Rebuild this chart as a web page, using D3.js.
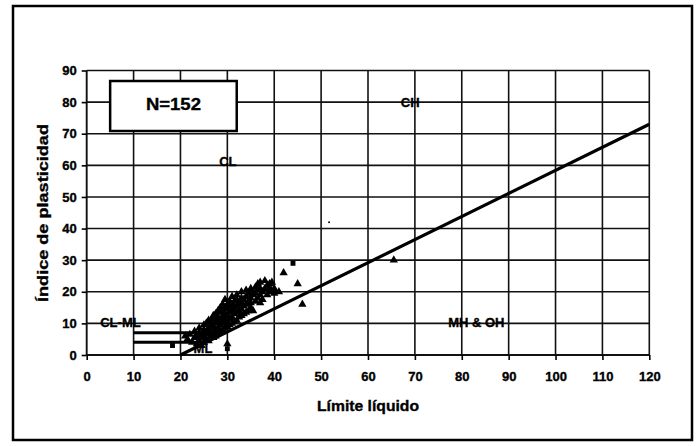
<!DOCTYPE html>
<html>
<head>
<meta charset="utf-8">
<script src="https://cdn.jsdelivr.net/npm/d3@7"></script>
<style>
  body { margin: 0; background: #fff; }
  svg { display: block; font-family: Arial, "Liberation Sans", sans-serif; }
  svg text { stroke: #000; stroke-width: 0.35px; }
  .tick text { font-size: 13px; font-weight: bold; fill: #000; }
</style>
</head>
<body>
<script>
const width = 699;
const height = 446;

// axis ticks
const xTicks = [0, 10, 20, 30, 40, 50, 60, 70, 80, 90, 100, 110, 120];
const yTicks = [0, 10, 20, 30, 40, 50, 60, 70, 80, 90];

// A-line and CL-ML band limits (liquid limit, plasticity index)
const aLineLL = [20, 120];
const aLinePI = [0, 73];
const bandLL = [10, 29.6, 10, 25.5];
const bandPI = [7, 7, 4, 4];

// zone labels
const zoneNames = ["CH", "CL", "CL-ML", "MH & OH", "ML"];
const zoneLL = [69, 30.1, 7.2, 83.1, 24.8];
const zonePI = [80, 61.3, 10.2, 10.2, 2.2];

// samples, triangles
const triLL = [21, 21.5, 22, 22.5, 23, 23, 23.5, 23.5, 24, 24, 24, 24.5, 24.5,
  25, 25, 25, 25, 25.5, 25.5, 25.5, 26, 26, 26, 26, 26.5, 26.5, 26.5, 26.5,
  27, 27, 27, 27, 27, 27.5, 27.5, 27.5, 27.5, 28, 28, 28, 28, 28, 28.5, 28.5, 28.5, 28.5, 28.5,
  29, 29, 29, 29, 29, 29.5, 29.5, 29.5, 29.5, 29.5, 30, 30, 30, 30, 30, 30, 30.5, 30.5, 30.5, 30.5, 30.5,
  31, 31, 31, 31, 31, 31.5, 31.5, 31.5, 31.5, 32, 32, 32, 32, 32, 32.5, 32.5, 32.5,
  33, 33, 33, 33, 33, 33.5, 33.5, 33.5, 34, 34, 34, 34, 34.5, 34.5, 34.5,
  35, 35, 35, 35, 35.5, 35.5, 35.5, 36, 36, 36, 36.5, 36.5, 36.5,
  37, 37, 37, 37, 37.5, 37.5, 38, 38, 38.5, 38.5, 39, 39, 39.5, 40, 40, 41,
  42, 45, 46, 65.5];
const triPI = [6, 5, 6.5, 4, 5.5, 7.5, 3.5, 6, 4.5, 7, 8.5, 5.5, 3,
  4, 6, 8, 9.5, 5, 7, 10, 4.5, 6.5, 8.5, 11, 6, 7.5, 9, 10.5,
  5.5, 7, 9, 11.5, 12.5, 6, 8, 10, 13, 7, 8.5, 10.5, 12, 14, 7.5, 9.5, 11, 13.5, 15,
  8, 10, 12, 14, 16, 8.5, 11, 13, 15, 17.5, 3.5, 9, 10.5, 12.5, 14.5, 16, 9.5, 11.5, 13.5, 15.5, 17,
  10, 12, 14, 16, 18.5, 10.5, 13, 15, 17, 11, 13.5, 15.5, 17.5, 19, 12, 14, 16.5,
  12.5, 14.5, 16, 18, 20, 13, 15.5, 17.5, 13.5, 16, 18.5, 20.5, 14, 17, 19.5,
  15, 16.5, 18, 21, 14, 19, 20, 17, 19.5, 21.5, 18, 20.5, 22.5,
  16.5, 19, 21, 23, 17.5, 20, 21, 23.5, 19, 22, 20, 22.5, 23, 19.5, 21, 20,
  26, 22.5, 16, 30];

// samples, squares
const sqLL = [18.3, 24, 26, 27.5, 29, 30, 31, 33, 35, 36.5, 39, 44];
const sqPI = [3, 6, 8, 11, 13, 2, 15, 17, 19, 21, 21, 29];

// stray mark
const dotLL = [51.7];
const dotPI = [42];

const svg = d3
  .select("body")
  .append("svg")
  .attr("width", width)
  .attr("height", height);

// outer frame
svg
  .append("rect")
  .attr("x", 13)
  .attr("y", 6)
  .attr("width", 679)
  .attr("height", 434)
  .attr("fill", "white")
  .attr("stroke", "black")
  .attr("stroke-width", 2.5);

const x = d3.scaleLinear().domain([0, 120]).range([86.7, 649.3]);
const y = d3.scaleLinear().domain([0, 90]).range([355, 70.5]);

// grid
svg
  .selectAll("line.vgrid")
  .data(xTicks)
  .enter()
  .append("line")
  .attr("x1", (d) => x(d))
  .attr("x2", (d) => x(d))
  .attr("y1", y(0))
  .attr("y2", y(90))
  .attr("stroke", "#111")
  .attr("stroke-width", (d) => (d === 0 ? 1.9 : 1.6));

svg
  .selectAll("line.hgrid")
  .data(yTicks)
  .enter()
  .append("line")
  .attr("x1", x(0))
  .attr("x2", x(120))
  .attr("y1", (d) => y(d))
  .attr("y2", (d) => y(d))
  .attr("stroke", "#111")
  .attr("stroke-width", (d) => (d === 0 ? 1.9 : 1.6));

// axes
svg
  .append("g")
  .attr("transform", `translate(0,${y(0)})`)
  .call(d3.axisBottom(x).tickValues(xTicks).tickSize(5).tickPadding(12))
  .call((g) => g.select(".domain").remove())
  .call((g) => g.selectAll(".tick line").attr("stroke", "#000").attr("stroke-width", 1.6));

svg
  .append("g")
  .attr("transform", `translate(${x(0)},0)`)
  .call(d3.axisLeft(y).tickValues(yTicks).tickSize(5).tickPadding(5))
  .call((g) => g.select(".domain").remove())
  .call((g) => g.selectAll(".tick line").attr("stroke", "#000").attr("stroke-width", 1.6));

// axis titles
svg
  .append("text")
  .attr("x", 368)
  .attr("y", 411)
  .attr("text-anchor", "middle")
  .attr("font-size", 15)
  .attr("font-weight", "bold")
  .attr("textLength", 102)
  .attr("lengthAdjust", "spacingAndGlyphs")
  .text("Límite líquido");

svg
  .append("text")
  .attr("transform", "translate(48,213) rotate(-90)")
  .attr("text-anchor", "middle")
  .attr("font-size", 15)
  .attr("font-weight", "bold")
  .attr("textLength", 178)
  .attr("lengthAdjust", "spacingAndGlyphs")
  .text("Índice de plasticidad");

// CL-ML band lines
const line = d3
  .line()
  .x((d) => x(d[0]))
  .y((d) => y(d[1]));

[0, 2].forEach((i) => {
  svg
    .append("path")
    .attr("d", line([[bandLL[i], bandPI[i]], [bandLL[i + 1], bandPI[i + 1]]]))
    .attr("stroke", "black")
    .attr("stroke-width", 3)
    .attr("fill", "none");
});

// A-line
svg
  .append("path")
  .attr("d", line(aLineLL.map((d, i) => [d, aLinePI[i]])))
  .attr("stroke", "black")
  .attr("stroke-width", 3.2)
  .attr("fill", "none");

// zone labels
svg
  .selectAll("text.zone")
  .data(zoneNames)
  .enter()
  .append("text")
  .attr("class", "zone")
  .attr("x", (d, i) => x(zoneLL[i]))
  .attr("y", (d, i) => y(zonePI[i]))
  .attr("dy", "0.35em")
  .attr("text-anchor", "middle")
  .attr("font-size", 13)
  .attr("font-weight", "bold")
  .text((d) => d);

// points
svg
  .selectAll("path.tri")
  .data(triLL)
  .enter()
  .append("path")
  .attr("class", "tri")
  .attr("d", d3.symbol(d3.symbolTriangle, 30))
  .attr("transform", (d, i) => `translate(${x(d)},${y(triPI[i])})`)
  .attr("fill", "black");

svg
  .selectAll("path.sq")
  .data(sqLL)
  .enter()
  .append("path")
  .attr("class", "sq")
  .attr("d", d3.symbol(d3.symbolSquare, 24))
  .attr("transform", (d, i) => `translate(${x(d)},${y(sqPI[i])})`)
  .attr("fill", "black");

svg
  .selectAll("circle.dot")
  .data(dotLL)
  .enter()
  .append("circle")
  .attr("cx", (d) => x(d))
  .attr("cy", (d, i) => y(dotPI[i]))
  .attr("r", 1)
  .attr("fill", "black");

// N box
svg
  .append("rect")
  .attr("x", x(5))
  .attr("y", 81)
  .attr("width", x(32) - x(5))
  .attr("height", 50)
  .attr("fill", "white")
  .attr("stroke", "black")
  .attr("stroke-width", 2.5);

svg
  .append("text")
  .attr("x", (x(5) + x(32)) / 2)
  .attr("y", 104)
  .attr("dy", "0.35em")
  .attr("text-anchor", "middle")
  .attr("font-size", 17)
  .attr("font-weight", "bold")
  .attr("textLength", 55)
  .attr("lengthAdjust", "spacingAndGlyphs")
  .text("N=152");
</script>
</body>
</html>
